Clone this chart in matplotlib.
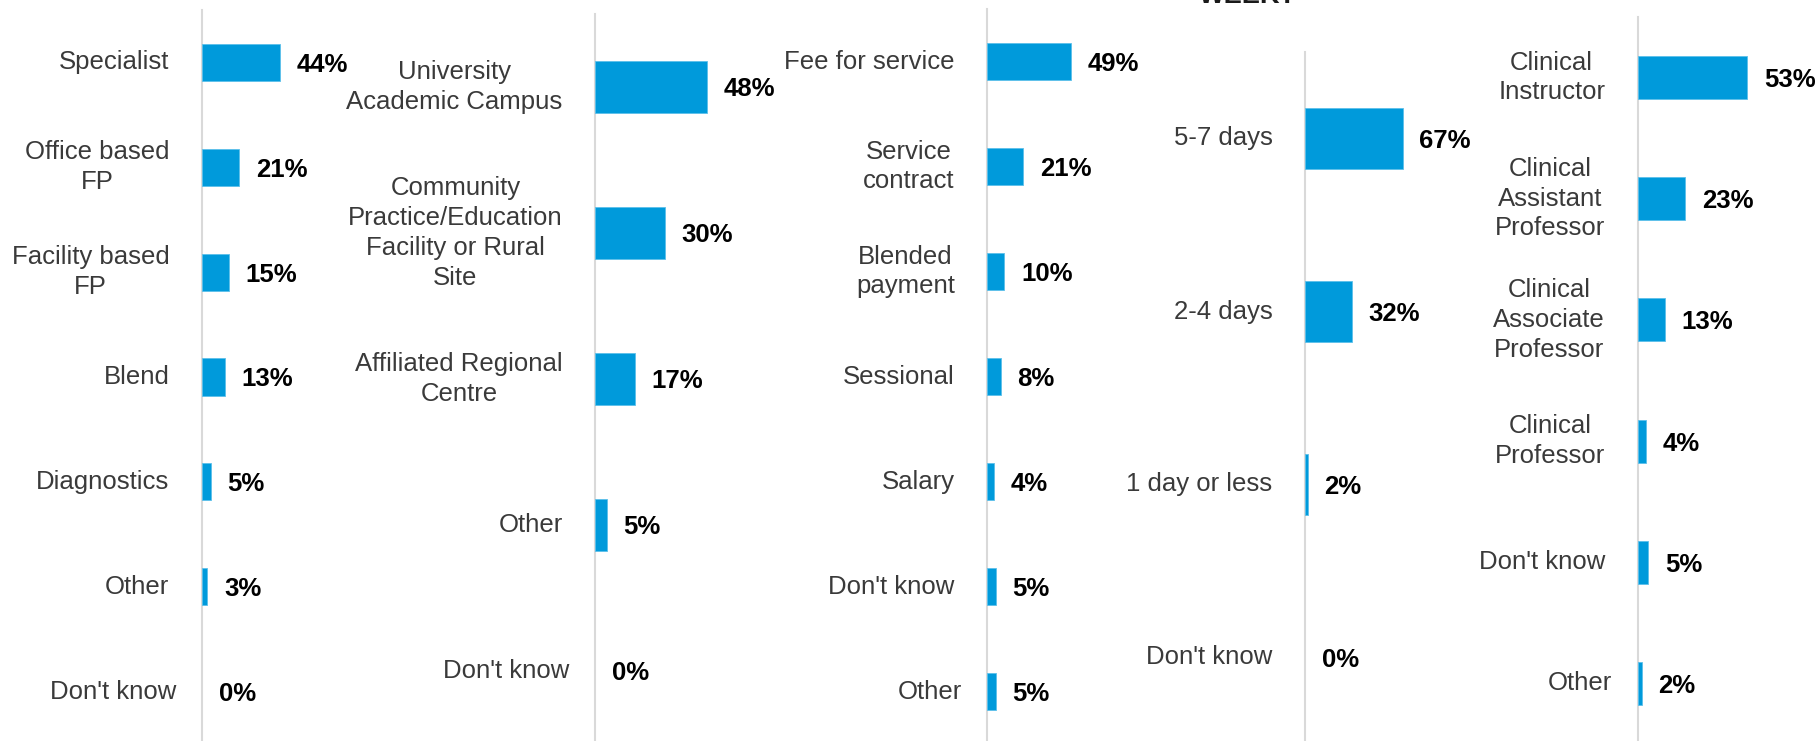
import matplotlib
matplotlib.use("Agg")
import matplotlib.pyplot as plt
import numpy as np

plt.rcParams["font.family"] = ["Liberation Sans", "DejaVu Sans"]

# --- data -------------------------------------------------------------
practice_cats = ["Specialist", "Office based\nFP", "Facility based\nFP", "Blend",
                 "Diagnostics", "Other", "Don't know"]
practice_vals = [44, 21, 15, 13, 5, 3, 0]

site_cats = ["University\nAcademic Campus",
             "Community\nPractice/Education\nFacility or Rural\nSite",
             "Affiliated Regional\nCentre", "Other", "Don't know"]
site_vals = [48, 30, 17, 5, 0]

payment_cats = ["Fee for service", "Service\ncontract", "Blended\npayment",
                "Sessional", "Salary", "Don't know", "Other"]
payment_vals = [49, 21, 10, 8, 4, 5, 5]

days_cats = ["5-7 days", "2-4 days", "1 day or less", "Don't know"]
days_vals = [67, 32, 2, 0]

rank_cats = ["Clinical\nInstructor", "Clinical\nAssistant\nProfessor",
             "Clinical\nAssociate\nProfessor", "Clinical\nProfessor",
             "Don't know", "Other"]
rank_vals = [53, 23, 13, 4, 5, 2]

days_title = "WEEK?"

# --- layout (pixels) --------------------------------------------------
W, H, DPI = 1819, 741, 100
BOTTOM = 744
BAR_COLOR = "#009ADB"
EDGE_COLOR = "#5cc0ea"
AXIS_COLOR = "#d9d9d9"
LABEL_COLOR = "#3a3a3a"
FS = 18.5

panels = [
    (practice_cats, practice_vals, dict(x=201.9, top=10, ppp=1.78, last_shift=5)),
    (site_cats, site_vals, dict(x=595.2, top=14, ppp=2.32, last_shift=5)),
    (payment_cats, payment_vals, dict(x=987.3, top=9, ppp=1.70, last_shift=5)),
    (days_cats, days_vals, dict(x=1305.0, top=52, ppp=1.458, last_shift=0)),
    (rank_cats, rank_vals, dict(x=1637.7, top=17, ppp=2.07, last_shift=5)),
]

fig = plt.figure(figsize=(W / DPI, H / DPI), dpi=DPI)
fig.patch.set_facecolor("white")

XMAX = 80
for cats, vals, lay in panels:
    n = len(cats)
    width_px = XMAX * lay["ppp"]
    ax = fig.add_axes([lay["x"] / W, (H - BOTTOM) / H,
                       width_px / W, (BOTTOM - lay["top"]) / H])
    ax.set_facecolor("none")
    y = np.arange(n)
    # zero-valued bars get no outline so nothing shows for them
    edge_widths = [0.6 if v > 0 else 0 for v in vals]
    ax.barh(y, vals, height=0.355, color=BAR_COLOR, edgecolor=EDGE_COLOR,
            linewidth=edge_widths, zorder=2)
    ax.set_xlim(0, XMAX)
    ax.set_ylim(n - 0.5, -0.5)
    for side in ("top", "right", "bottom"):
        ax.spines[side].set_visible(False)
    ax.spines["left"].set_color(AXIS_COLOR)
    ax.spines["left"].set_linewidth(1.5)
    ax.spines["left"].set_zorder(1)
    ax.set_xticks([])
    ax.set_yticks([])

    for i, (cat, v) in enumerate(zip(cats, vals)):
        pad = -23.4 + (lay["last_shift"] if i == n - 1 else 0)
        ax.annotate(cat, xy=(0, i), xytext=(pad, 0), textcoords="offset points",
                    ha="right", va="center", multialignment="center",
                    fontsize=FS, color=LABEL_COLOR, annotation_clip=False,
                    linespacing=1.3)
        ax.annotate(f"{v}%", xy=(v, i), xytext=(12, 0), textcoords="offset points",
                    ha="left", va="center_baseline", fontsize=FS,
                    fontweight="bold", color="black", annotation_clip=False)

# title of the days-per-week panel, running off the top edge
fig.text(1248.5 / W, 1 - 3 / H, days_title, ha="center", va="baseline",
         fontsize=19.5, fontweight="bold", color="#1a1a1a")

fig.savefig("out.png", dpi=DPI, facecolor="white")
